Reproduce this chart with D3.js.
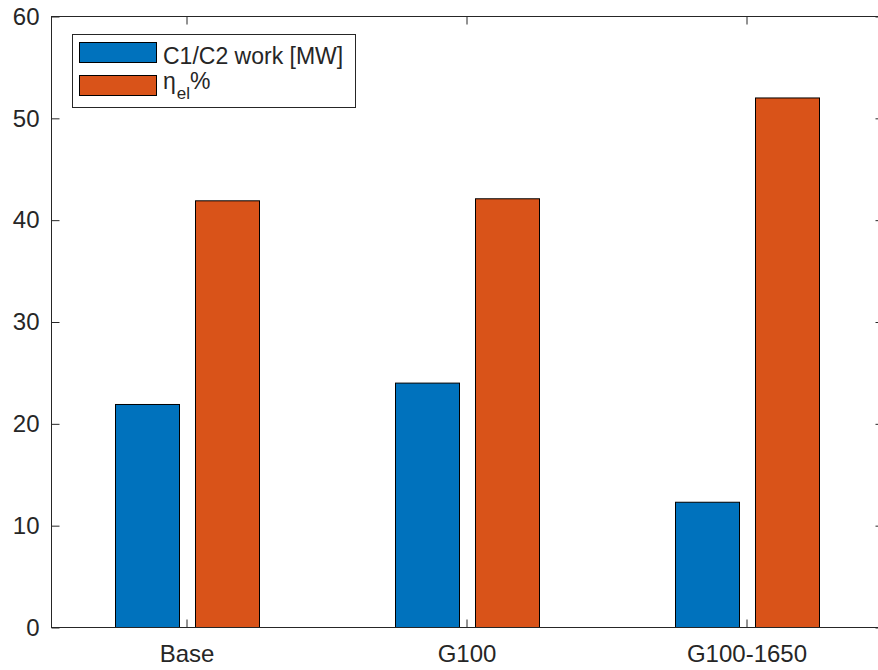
<!DOCTYPE html>
<html>
<head>
<meta charset="utf-8">
<script src="https://cdn.jsdelivr.net/npm/d3@7"></script>
<style>
  body { margin: 0; background: #fff; }
  text { font-family: "Liberation Sans", Arial, sans-serif; fill: #262626; }
</style>
</head>
<body>
<script>
// data
var categories = ["Base", "G100", "G100-1650"];
var series = ["C1/C2 work [MW]", "eta_el %"];
var work = [21.9, 24.0, 12.3];
var eff = [41.9, 42.1, 52.0];
var yTicks = [0, 10, 20, 30, 40, 50, 60];
var colors = ["#0072BD", "#D95319"];

var w = 878, h = 670;
// right edge of the box sits just outside the window, as in the source image
var pL = 51.5, pR = 883.5, pT = 16.5, pB = 627.5;

var svg = d3.select("body").append("svg")
    .attr("width", w)
    .attr("height", h);

var y = d3.scaleLinear().domain([0, 60]).range([pB, pT]);
var x0 = d3.scaleBand().domain(categories).range([47, 887]);
var x1 = d3.scaleBand().domain([0, 1]).range([-72, 72]).paddingInner(0.2);

var rows = categories.map(function(c, i){
    return {cat: c, vals: [work[i], eff[i]]};
});

// bars
var g = svg.selectAll("g.grp")
    .data(rows)
    .enter().append("g")
    .attr("class", "grp")
    .attr("transform", function(d){ return "translate(" + (x0(d.cat) + x0.bandwidth() / 2) + ",0)"; });

g.selectAll("rect")
    .data(function(d){ return d.vals; })
    .enter().append("rect")
    .attr("x", function(d, i){ return x1(i) + 0.5; })
    .attr("width", x1.bandwidth())
    .attr("y", function(d){ return y(d); })
    .attr("height", function(d){ return y(0) - y(d); })
    .attr("fill", function(d, i){ return colors[i]; })
    .attr("stroke", "#000")
    .attr("stroke-width", 1);

// axes, ticks pointing inward
var yl = svg.append("g")
    .attr("transform", "translate(" + pL + ",0)")
    .call(d3.axisLeft(y).tickValues(yTicks).tickSizeInner(-8).tickSizeOuter(0).tickPadding(12));
var yr = svg.append("g")
    .attr("transform", "translate(" + pR + ",0)")
    .call(d3.axisRight(y).tickValues(yTicks).tickSizeInner(-8).tickSizeOuter(0).tickFormat(""));
var xb = svg.append("g")
    .attr("transform", "translate(0," + pB + ")")
    .call(d3.axisBottom(x0).tickSizeInner(-8).tickSizeOuter(0).tickPadding(17));
var xt = svg.append("g")
    .attr("transform", "translate(0," + pT + ")")
    .call(d3.axisTop(x0).tickSizeInner(-8).tickSizeOuter(0).tickFormat(""));

[yl, yr, xb, xt].forEach(function(a){
    a.select(".domain").remove();
    a.selectAll("line").attr("stroke", "#262626");
    a.selectAll("text")
        .style("font-family", "'Liberation Sans', Arial, sans-serif")
        .style("font-size", "24px")
        .attr("fill", "#262626");
});

// frame
svg.append("rect")
    .attr("x", pL)
    .attr("y", pT)
    .attr("width", pR - pL)
    .attr("height", pB - pT)
    .attr("fill", "none")
    .attr("stroke", "#262626")
    .attr("stroke-width", 1);

// legend
var lg = svg.append("g");
lg.append("rect")
    .attr("x", 72.5).attr("y", 34.5)
    .attr("width", 283).attr("height", 73)
    .attr("fill", "#fff")
    .attr("stroke", "#262626");

[0, 1].forEach(function(i){
    lg.append("rect")
        .attr("x", 79.5).attr("y", 42.5 + i * 33)
        .attr("width", 77).attr("height", 20)
        .attr("fill", colors[i])
        .attr("stroke", "#000");
});

lg.append("text")
    .attr("x", 163).attr("y", 64)
    .style("font-size", "23px")
    .text(series[0]);

var t2 = lg.append("text")
    .attr("x", 163).attr("y", 89)
    .style("font-size", "23px");
t2.append("tspan").text("η");
t2.append("tspan").attr("dx", 1).attr("dy", 10).style("font-size", "17px").text("el");
t2.append("tspan").attr("dy", -10).text("%");
</script>
</body>
</html>
